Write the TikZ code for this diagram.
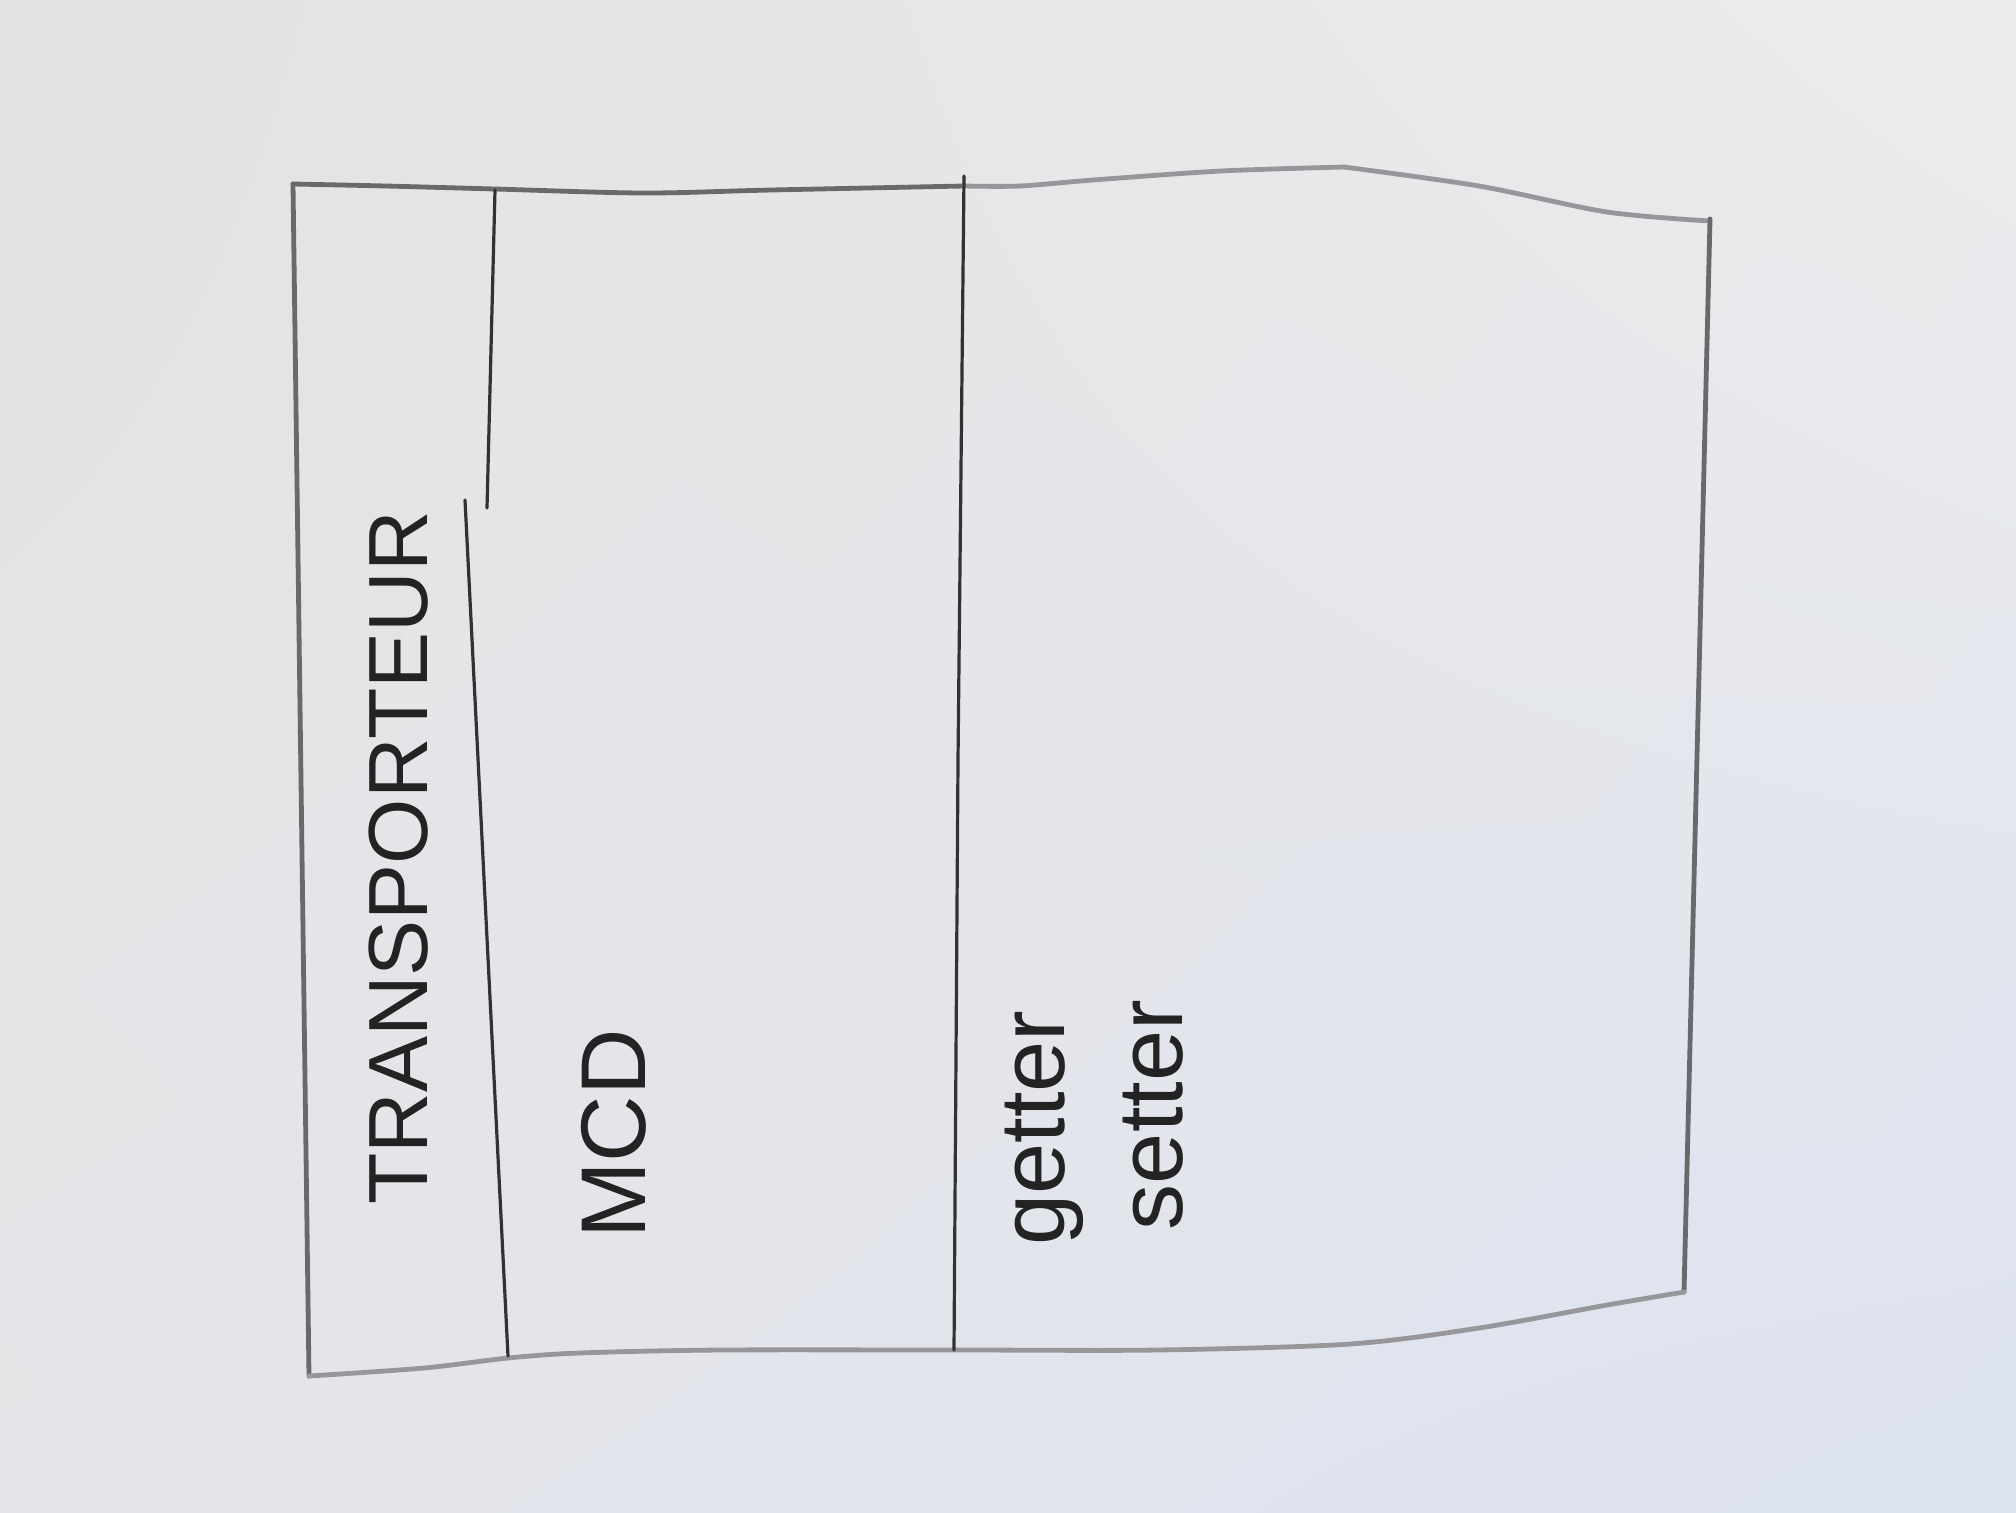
\documentclass[tikz,border=0pt]{standalone}
\usepackage{fontspec}
\setmainfont{Liberation Sans}
\usetikzlibrary{shadings}
\definecolor{bgA}{RGB}{226,226,226}
\definecolor{bgB}{RGB}{236,236,236}
\definecolor{bgC}{RGB}{230,230,234}
\definecolor{bgD}{RGB}{220,226,240}
\definecolor{ink}{RGB}{50,50,50}
\definecolor{inkmid}{RGB}{105,105,108}
\definecolor{inkfaint}{RGB}{150,150,155}
\definecolor{txt}{RGB}{35,35,35}
\begin{document}
\begin{tikzpicture}[x=0.5pt,y=-0.5pt,
  edge/.style={line width=2.4pt, color=inkmid, line cap=round, line join=round},
  faintedge/.style={line width=2.4pt, color=inkfaint, line cap=round, line join=round},
  divider/.style={line width=1.6pt, color=ink, line cap=round},
  lbl/.style={rotate=90, text=txt, inner sep=0pt}]
\useasboundingbox (0,0) rectangle (2016,1512);
\shade[upper left=bgA, upper right=bgB, lower left=bgC, lower right=bgD] (0,0) rectangle (2016,1512);
% outer frame
\draw[edge] (293,184) -- (309,1376);
\draw[edge] plot[smooth] coordinates {(293,184) (386,186) (495,189) (643,193) (771,190) (964,186)};
\draw[faintedge] plot[smooth] coordinates {(964,186) (1020,186) (1093,180) (1221,171) (1344,167)};
\draw[faintedge] plot[smooth] coordinates {(1344,167) (1479,186) (1607,212) (1710,221)};
\draw[edge] (1710,219) -- (1684,1292);
\draw[faintedge] plot[smooth] coordinates {(1684,1292) (1607,1305) (1479,1328) (1350,1344) (1157,1350) (964,1350) (720,1350) (579,1353) (508,1358) (424,1368) (309,1376)};
% dividers
\draw[divider] (495,190) -- (487,508);
\draw[divider] (465,500) -- (508,1356);
\draw[divider] (964,176) -- (958,760) -- (954,1350);
% labels
\node[lbl, font=\fontsize{42}{50}\selectfont] (title) at (399,858) {TRANSPORTEUR};
\node[lbl, font=\fontsize{46}{54}\selectfont] (mcd) at (614,1134) {MCD};
\node[lbl, font=\fontsize{46}{54}\selectfont] (getter) at (1044,1128) {getter};
\node[lbl, font=\fontsize{46}{54}\selectfont] (setter) at (1153,1115) {setter};
\end{tikzpicture}
\end{document}
